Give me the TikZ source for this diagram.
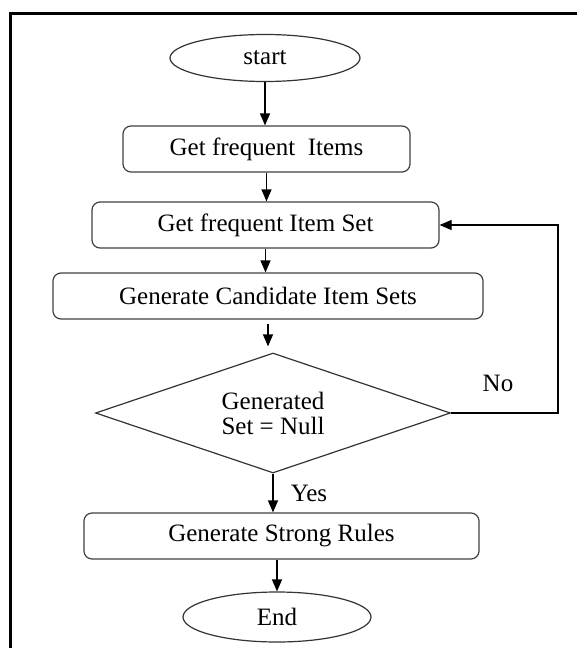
\documentclass[tikz,border=0pt]{standalone}
\usepackage{fontspec}
\setmainfont{Liberation Serif}
\usetikzlibrary{arrows.meta,shapes.geometric}

\begin{document}
\begin{tikzpicture}[x=0.5pt,y=-0.5pt,
  every node/.style={font=\fontsize{12.5}{12.5}\selectfont},
  term/.style={ellipse,draw=black!80,line width=0.6pt,inner sep=0pt},
  proc/.style={rectangle,rounded corners=4pt,draw=black!75,line width=0.6pt,minimum height=23pt,inner sep=0pt},
  test/.style={diamond,aspect=3,draw=black!80,line width=0.6pt,inner sep=0pt,minimum width=177.5pt,minimum height=60pt,align=center},
  >={Triangle[length=6pt,width=5pt]}]
  \useasboundingbox (0,0) rectangle (577,648);
  \clip (0,0) rectangle (577,648);
  \draw[line width=1.5pt] (10.5,13.5) rectangle (620,700);

  \node[term,minimum width=95pt,minimum height=23.5pt] (start) at (265,58) {start};
  \node[proc,minimum width=143.5pt] (items) at (266.5,149) {Get frequent~ Items};
  \node[proc,minimum width=173.5pt] (itemset) at (265.5,225) {Get frequent Item Set};
  \node[proc,minimum width=215pt] (cand) at (268,296) {Generate Candidate Item Sets};
  \node[test] (null) at (273,413) {Generated\\Set = Null};
  \node[proc,minimum width=197.5pt] (rules) at (281.5,536) {Generate Strong Rules};
  \node[term,minimum width=94pt,minimum height=25pt] (end) at (277,617) {End};
  \node (no) at (498,383) {No};
  \node (yes) at (309,493) {Yes};
  \coordinate (back) at (558,413);

  \path[->,line width=0.6pt]
  (start) edge (start |- items.north)
  (items) edge (items |- itemset.north)
  (itemset) edge (itemset |- cand.north)
  ([yshift=-2pt]cand.south) edge ([yshift=3pt]cand.south |- null.north)
  (null) edge (null |- rules.north)
  (end |- rules.south) edge (end)
  ;
  \draw[->,line width=0.6pt] (null.east) -- (back) |- (itemset.east);
\end{tikzpicture}
\end{document}
